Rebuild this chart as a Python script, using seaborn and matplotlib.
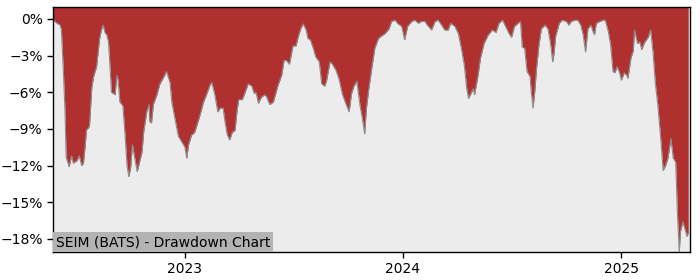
import matplotlib
matplotlib.use("Agg")
import matplotlib.pyplot as plt
import matplotlib.dates as mdates
from matplotlib.ticker import PercentFormatter, MultipleLocator
import seaborn as sns
import pandas as pd

title_text = "SEIM (BATS) - Drawdown Chart"

dates = [
    "2022-05-25", "2022-05-30", "2022-06-06", "2022-06-08", "2022-06-11", "2022-06-14", "2022-06-16",
    "2022-06-21", "2022-06-25", "2022-06-28", "2022-07-04", "2022-07-08", "2022-07-12", "2022-07-15",
    "2022-07-18", "2022-07-20", "2022-07-25", "2022-07-29", "2022-08-01", "2022-08-06", "2022-08-11",
    "2022-08-14", "2022-08-17", "2022-08-20", "2022-08-23", "2022-08-26", "2022-08-31", "2022-09-06",
    "2022-09-09", "2022-09-11", "2022-09-14", "2022-09-19", "2022-09-23", "2022-09-26", "2022-09-29",
    "2022-10-02", "2022-10-05", "2022-10-09", "2022-10-13", "2022-10-17", "2022-10-21", "2022-10-24",
    "2022-10-29", "2022-11-02", "2022-11-03", "2022-11-06", "2022-11-09", "2022-11-15", "2022-11-20",
    "2022-11-26", "2022-12-01", "2022-12-07", "2022-12-10", "2022-12-15", "2022-12-21", "2022-12-26",
    "2023-01-01", "2023-01-04", "2023-01-07", "2023-01-12", "2023-01-17", "2023-01-21", "2023-01-26",
    "2023-02-01", "2023-02-06", "2023-02-12", "2023-02-15", "2023-02-20", "2023-02-25", "2023-03-01",
    "2023-03-06", "2023-03-09", "2023-03-13", "2023-03-17", "2023-03-21", "2023-03-26", "2023-03-29",
    "2023-04-01", "2023-04-07", "2023-04-11", "2023-04-17", "2023-04-23", "2023-04-27", "2023-04-30",
    "2023-05-04", "2023-05-09", "2023-05-15", "2023-05-18", "2023-05-23", "2023-05-29", "2023-06-02",
    "2023-06-06", "2023-06-12", "2023-06-16", "2023-06-20", "2023-06-25", "2023-06-29", "2023-07-01",
    "2023-07-06", "2023-07-10", "2023-07-14", "2023-07-18", "2023-07-23", "2023-07-26", "2023-07-30",
    "2023-08-04", "2023-08-08", "2023-08-14", "2023-08-18", "2023-08-23", "2023-08-26", "2023-09-01",
    "2023-09-05", "2023-09-11", "2023-09-16", "2023-09-22", "2023-09-28", "2023-10-03", "2023-10-07",
    "2023-10-11", "2023-10-16", "2023-10-21", "2023-10-25", "2023-10-29", "2023-11-01", "2023-11-05",
    "2023-11-10", "2023-11-15", "2023-11-21", "2023-11-26", "2023-12-02", "2023-12-09", "2023-12-13",
    "2023-12-19", "2023-12-24", "2023-12-30", "2024-01-04", "2024-01-09", "2024-01-16", "2024-01-21",
    "2024-01-27", "2024-02-01", "2024-02-07", "2024-02-11", "2024-02-18", "2024-02-24", "2024-02-29",
    "2024-03-06", "2024-03-11", "2024-03-17", "2024-03-21", "2024-03-28", "2024-04-03", "2024-04-08",
    "2024-04-13", "2024-04-17", "2024-04-20", "2024-04-25", "2024-04-28", "2024-04-30", "2024-05-06",
    "2024-05-10", "2024-05-16", "2024-05-23", "2024-05-30", "2024-06-05", "2024-06-10", "2024-06-16",
    "2024-06-21", "2024-06-27", "2024-07-01", "2024-07-06", "2024-07-12", "2024-07-16", "2024-07-19",
    "2024-07-23", "2024-07-27", "2024-08-01", "2024-08-03", "2024-08-06", "2024-08-09", "2024-08-12",
    "2024-08-16", "2024-08-20", "2024-08-26", "2024-08-31", "2024-09-04", "2024-09-08", "2024-09-10",
    "2024-09-13", "2024-09-19", "2024-09-24", "2024-10-01", "2024-10-05", "2024-10-09", "2024-10-15",
    "2024-10-20", "2024-10-25", "2024-10-29", "2024-11-02", "2024-11-06", "2024-11-11", "2024-11-15",
    "2024-11-17", "2024-11-20", "2024-11-26", "2024-12-01", "2024-12-05", "2024-12-10", "2024-12-14",
    "2024-12-18", "2024-12-21", "2024-12-25", "2024-12-29", "2025-01-01", "2025-01-06", "2025-01-10",
    "2025-01-12", "2025-01-17", "2025-01-21", "2025-01-23", "2025-01-28", "2025-02-01", "2025-02-04",
    "2025-02-09", "2025-02-15", "2025-02-19", "2025-02-23", "2025-02-27", "2025-03-03", "2025-03-08",
    "2025-03-12", "2025-03-16", "2025-03-20", "2025-03-25", "2025-03-29", "2025-04-02", "2025-04-05",
    "2025-04-08", "2025-04-10", "2025-04-14", "2025-04-17", "2025-04-21", "2025-04-23",
]

drawdown = [
    0.0, -0.3, -0.5, -0.9, -3.9, -7.4, -11.3,
    -12.1, -11.2, -11.8, -11.6, -11.2, -12.0, -11.8,
    -10.3, -9.1, -8.8, -5.6, -4.7, -3.9, -1.6,
    -0.9, -0.5, -1.1, -1.3, -1.9, -6.0, -6.2,
    -4.6, -5.0, -6.8, -7.1, -9.7, -12.0, -12.9,
    -12.2, -10.3, -11.4, -12.5, -11.7, -10.9, -9.2,
    -7.6, -7.0, -8.4, -8.5, -7.0, -6.2, -5.3,
    -4.8, -4.3, -5.2, -6.8, -8.1, -9.6, -10.0,
    -10.5, -11.4, -10.3, -9.5, -9.3, -8.7, -7.9,
    -6.8, -6.2, -5.4, -5.2, -6.2, -7.6, -7.3,
    -7.3, -8.4, -9.5, -9.9, -9.3, -9.1, -7.6,
    -6.6, -6.6, -6.1, -5.3, -5.5, -6.1, -6.0,
    -6.9, -6.4, -6.2, -6.4, -7.0, -6.8, -6.1,
    -5.4, -4.6, -3.4, -3.4, -3.7, -2.7, -2.2,
    -2.2, -1.4, -0.8, -0.4, -0.9, -1.6, -1.7,
    -2.4, -3.1, -3.5, -5.3, -5.5, -5.1, -3.5,
    -3.7, -4.2, -4.9, -6.2, -7.0, -7.6, -6.1,
    -5.5, -5.1, -7.0, -8.1, -9.4, -7.3, -5.7,
    -4.0, -2.4, -1.6, -1.4, -1.2, -0.8, -0.2,
    -0.1, -0.4, -0.6, -1.7, -0.6, -0.2, -0.1,
    -0.35, -0.2, -0.2, -0.5, -0.9, -0.2, -0.1,
    -0.5, -0.9, -0.9, -0.35, -0.6, -1.2, -2.4,
    -3.8, -5.7, -6.5, -6.0, -5.7, -6.2, -4.6,
    -3.2, -2.0, -1.3, -0.9, -1.1, -0.35, -0.1,
    -0.6, -1.2, -1.5, -0.6, -0.35, -0.2, -2.3,
    -2.4, -4.3, -4.7, -5.9, -7.3, -5.9, -4.0,
    -2.1, -0.8, -0.5, -0.8, -1.9, -3.5, -2.9,
    -1.4, -0.35, -0.1, -0.2, -0.5, -0.2, -0.1,
    -0.1, -0.5, -1.3, -2.7, -0.8, -0.5, -1.1,
    -1.3, -0.35, -0.2, -0.1, -0.1, -1.0, -2.1,
    -4.3, -4.4, -3.9, -4.4, -5.0, -4.4, -4.6,
    -4.85, -3.2, -2.6, -0.9, -2.0, -1.9, -2.5,
    -1.9, -1.5, -0.9, -2.7, -5.3, -7.0, -9.8,
    -12.4, -12.0, -11.4, -9.8, -11.4, -11.7, -16.0,
    -19.07, -17.4, -16.6, -17.1, -17.8, -17.5,
]

df = pd.DataFrame({"date": pd.to_datetime(dates), "drawdown": drawdown})

sns.set_theme(style="white")
plt.rcParams["font.family"] = ["DejaVu Sans"]

fig = plt.figure(figsize=(7, 2.8), dpi=100)
ax = fig.add_axes([53 / 700, 28 / 280, 637 / 700, 245 / 280])
ax.set_facecolor("#ececec")

y_top = 0.98
ax.fill_between(df["date"], df["drawdown"], y_top, color="#b03030", linewidth=0)
sns.lineplot(data=df, x="date", y="drawdown", ax=ax, color="#8c8c8c", linewidth=0.8)

ax.set_xlim(pd.Timestamp("2022-05-25"), pd.Timestamp("2025-04-26"))
ax.set_ylim(min(drawdown), y_top)

ax.yaxis.set_major_locator(MultipleLocator(3))
ax.yaxis.set_major_formatter(PercentFormatter(xmax=100, decimals=0))
ax.xaxis.set_major_locator(mdates.YearLocator())
ax.xaxis.set_major_formatter(mdates.DateFormatter("%Y"))

ax.set_xlabel("")
ax.set_ylabel("")
ax.tick_params(axis="both", labelsize=10, colors="black", length=4, width=1,
               left=True, bottom=True, direction="out")
for s in ax.spines.values():
    s.set_visible(True)
    s.set_color("black")
    s.set_linewidth(1.0)

ax.text(0.0045, 0.012, title_text, transform=ax.transAxes, fontsize=10,
        ha="left", va="bottom", color="black",
        bbox=dict(facecolor="#b3b3b3", edgecolor="none", pad=2))

fig.savefig("out.png", dpi=100)
